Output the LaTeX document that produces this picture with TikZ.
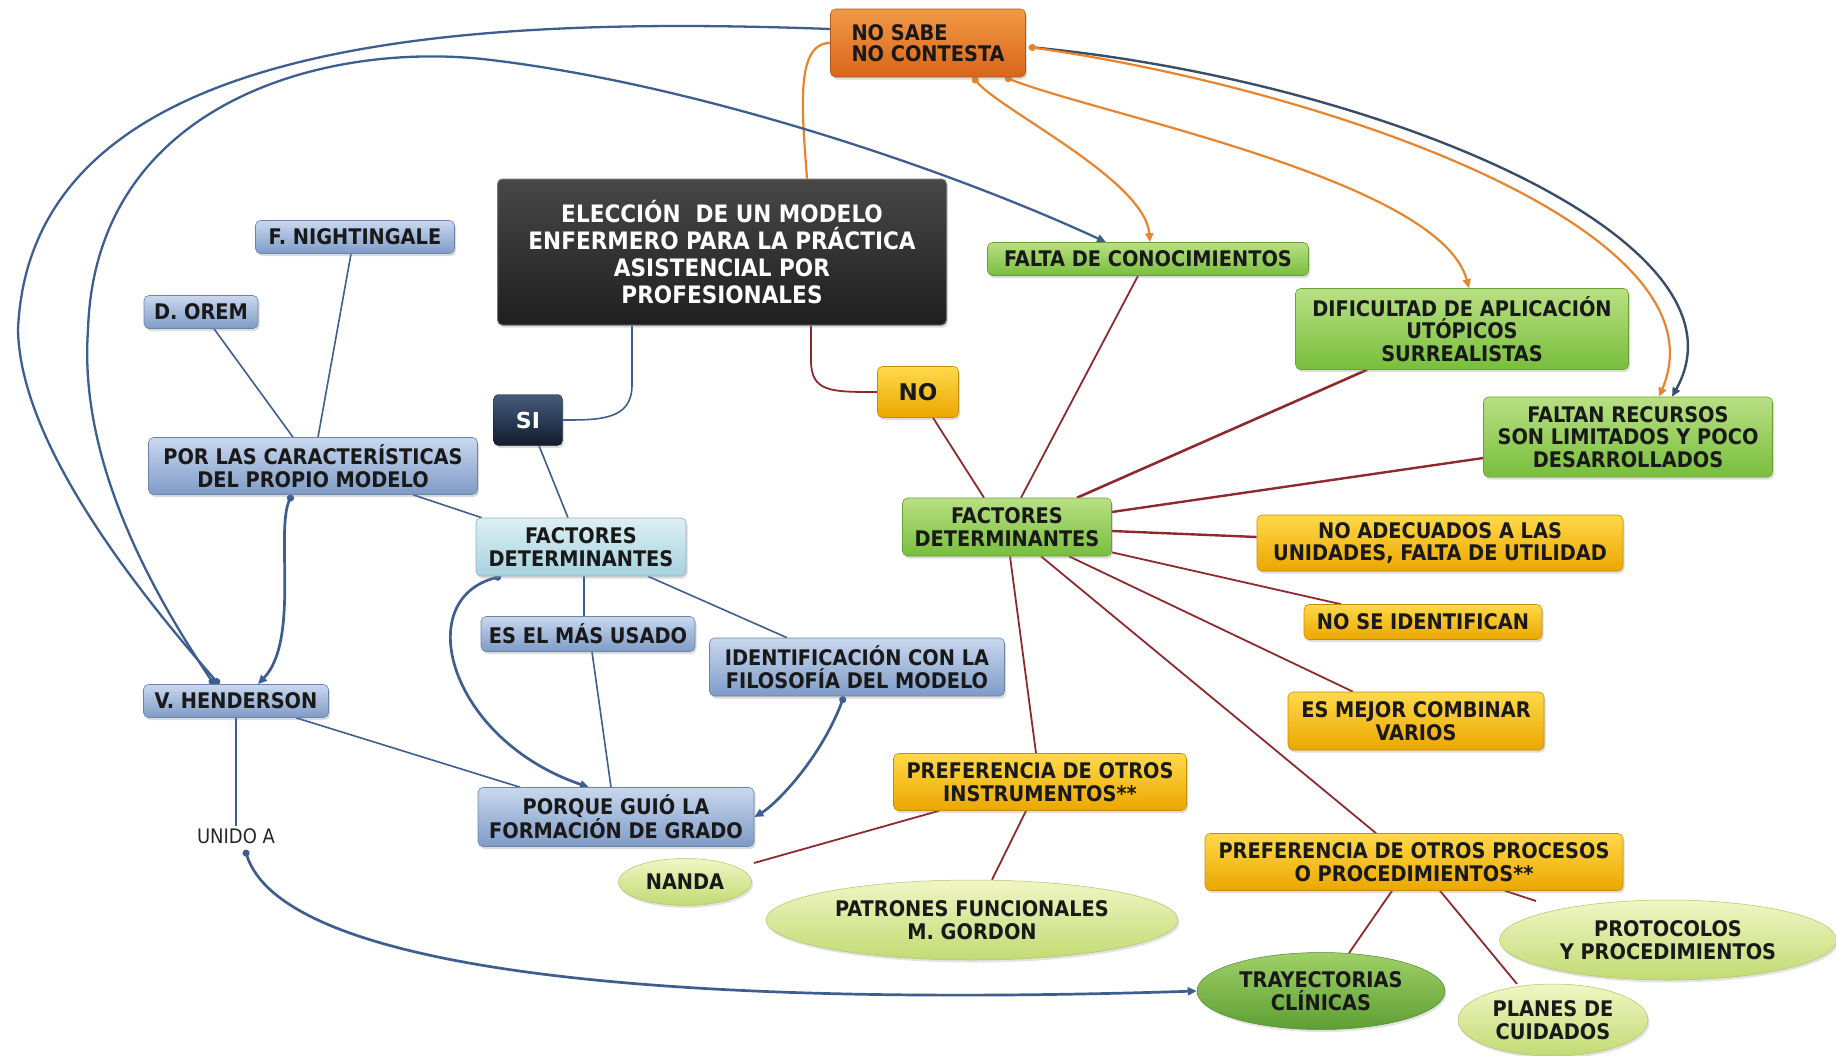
\documentclass[tikz,border=0pt]{standalone}
\usepackage{fontspec}
\newfontfamily\condb{DejaVu Sans Condensed Bold}
\newfontfamily\condr{DejaVu Sans Condensed}
\newfontfamily\dvsb{DejaVu Sans Bold}
\usetikzlibrary{arrows.meta,shapes.geometric,shadows,calc}
\pgfdeclarelayer{links}
\pgfsetlayers{links,main}

\definecolor{lnblue}{HTML}{3D5E8F}
\definecolor{lndark}{HTML}{3A4D66}
\definecolor{lnorange}{HTML}{E8842C}
\definecolor{lnred}{HTML}{8E2A2E}
\definecolor{cBlueT}{HTML}{C9D8EE}
\definecolor{cBlueB}{HTML}{7E9BC7}
\definecolor{cLbT}{HTML}{DDF0F4}
\definecolor{cLbB}{HTML}{A6D2DE}
\definecolor{cGrT}{HTML}{B9E084}
\definecolor{cGrB}{HTML}{78BE3C}
\definecolor{cYeT}{HTML}{FFD94A}
\definecolor{cYeB}{HTML}{EBA700}
\definecolor{cOrT}{HTML}{F29A45}
\definecolor{cOrB}{HTML}{D8651A}
\definecolor{cOvT}{HTML}{F0F6C4}
\definecolor{cOvB}{HTML}{C3DA74}
\definecolor{cTrT}{HTML}{9FD068}
\definecolor{cTrB}{HTML}{5E9F33}
\definecolor{cSiT}{HTML}{465B7C}
\definecolor{cSiB}{HTML}{111C2E}

\tikzset{
  card/.style={rounded corners=5pt, align=center, inner sep=1pt, text=black!90,
    font=\condb\fontsize{21.5}{22.5}\selectfont,
    drop shadow={shadow xshift=1.5pt, shadow yshift=-2.5pt, opacity=0.28}},
  dims/.style 2 args={minimum width=#1pt, minimum height=#2pt},
  bluecard/.style={card, top color=cBlueT, bottom color=cBlueB, draw=cBlueB!85!black, line width=0.6pt},
  lbluecard/.style={card, top color=cLbT, bottom color=cLbB, draw=cLbB!85!black, line width=0.6pt},
  greencard/.style={card, top color=cGrT, bottom color=cGrB, draw=cGrB!85!black, line width=0.6pt},
  yellowcard/.style={card, top color=cYeT, bottom color=cYeB, draw=cYeB!85!black, line width=0.6pt},
  orangecard/.style={card, top color=cOrT, bottom color=cOrB, draw=cOrB!85!black, line width=0.6pt},
  titlecard/.style={card, top color=black!72, middle color=black, bottom color=black!88,
    draw=black!55, line width=1pt, text=white, font=\condb\fontsize{24}{26.7}\selectfont},
  sicard/.style={card, top color=cSiT, bottom color=cSiB, draw=cSiB, text=white,
    font=\dvsb\fontsize{22}{24}\selectfont},
  oval/.style={ellipse, inner sep=0pt, align=center, text=black!90,
    font=\condb\fontsize{21.5}{22.5}\selectfont, top color=cOvT, bottom color=cOvB,
    draw=cOvB!90!black, line width=0.5pt,
    drop shadow={shadow xshift=1.5pt, shadow yshift=-2.5pt, opacity=0.22}},
  bthin/.style={draw=lnblue, line width=1.6pt},
  bmid/.style={draw=lnblue, line width=2.3pt},
  bthick/.style={draw=lnblue, line width=2.7pt},
  dotarrow/.style={{Circle[length=7pt]}-{Triangle[length=9pt,width=8pt]}},
  oline/.style={draw=lnorange, line width=2.2pt, {Circle[length=7pt]}-{Triangle[length=9pt,width=8pt]}},
  rline/.style={draw=lnred, line width=1.8pt},
}

\begin{document}
\begin{tikzpicture}[x=1pt,y=-1pt]
\useasboundingbox (0,0) rectangle (1836,1055);

% ---------- central question and answers ----------
\node[titlecard, dims={449}{146}] (title) at (722,252)
  {ELECCIÓN \ DE UN MODELO\\ENFERMERO PARA LA PRÁCTICA\\ASISTENCIAL POR\\PROFESIONALES};
\node[orangecard, dims={195}{68}, align=left, font=\condb\fontsize{21.5}{21.5}\selectfont] (nosabe) at (928,43)
  {NO SABE\\NO CONTESTA};
\node[sicard, dims={69}{51}] (si) at (528,420) {SI};
\node[yellowcard, dims={81}{51}, font=\dvsb\fontsize{23}{25}\selectfont] (no) at (918,392) {NO};

% ---------- "SI" branch ----------
\node[bluecard, dims={199}{33}] (night) at (355,237) {F. NIGHTINGALE};
\node[bluecard, dims={114}{33}] (orem) at (201,312) {D. OREM};
\node[bluecard, dims={329}{57}] (porlas) at (313,466) {POR LAS CARACTERÍSTICAS\\DEL PROPIO MODELO};
\node[lbluecard, dims={210}{58}] (factsi) at (581,547) {FACTORES\\DETERMINANTES};
\node[bluecard, dims={214}{35}] (masusado) at (588,634) {ES EL MÁS USADO};
\node[bluecard, dims={295}{58}] (ident) at (857,667) {IDENTIFICACIÓN CON LA\\FILOSOFÍA DEL MODELO};
\node[bluecard, dims={185}{33}] (hend) at (236,701) {V. HENDERSON};
\node[bluecard, dims={276}{59}] (porque) at (616,817) {PORQUE GUIÓ LA\\FORMACIÓN DE GRADO};
\node[inner sep=2pt, font=\condr\fontsize{20}{22}\selectfont, text=black!85] (unido) at (236,836) {UNIDO A};

% ---------- "NO" branch ----------
\node[greencard, dims={321}{33}] (falta) at (1148,259) {FALTA DE CONOCIMIENTOS};
\node[greencard, dims={333}{81}] (dific) at (1462,329) {DIFICULTAD DE APLICACIÓN\\UTÓPICOS\\SURREALISTAS};
\node[greencard, dims={289}{80}] (recur) at (1628,437) {FALTAN RECURSOS\\SON LIMITADOS Y POCO\\DESARROLLADOS};
\node[greencard, dims={209}{58}] (factno) at (1007,527) {FACTORES\\DETERMINANTES};
\node[yellowcard, dims={366}{56}] (noadec) at (1440,543) {NO ADECUADOS A LAS\\UNIDADES, FALTA DE UTILIDAD};
\node[yellowcard, dims={238}{35}] (noiden) at (1423,622) {NO SE IDENTIFICAN};
\node[yellowcard, dims={256}{58}] (mejor) at (1416,721) {ES MEJOR COMBINAR\\VARIOS};
\node[yellowcard, dims={293}{57}] (instr) at (1040,782) {PREFERENCIA DE OTROS\\INSTRUMENTOS**};
\node[yellowcard, dims={418}{57}] (proc) at (1414,862) {PREFERENCIA DE OTROS PROCESOS\\O PROCEDIMIENTOS**};
\node[oval, dims={133}{47}] (nanda) at (685,882) {NANDA};
\node[oval, dims={412}{80}] (patr) at (972,920) {PATRONES FUNCIONALES\\M. GORDON};
\node[oval, dims={337}{80}] (prot) at (1668,940) {PROTOCOLOS\\Y PROCEDIMIENTOS};
\node[oval, dims={248}{77}, top color=cTrT, bottom color=cTrB, draw=cTrB!85!black] (tray) at (1321,991) {TRAYECTORIAS\\CLÍNICAS};
\node[oval, dims={190}{72}] (planes) at (1553,1020) {PLANES DE\\CUIDADOS};

% ---------- connectors ----------
\begin{pgfonlayer}{links}
  % question to answers
  \draw[bthin] ($(title.south)+(-90,0)$) -- (632,385) .. controls (632,420) and (600,420) .. (si.east);
  \draw[rline] ($(title.south)+(89,0)$) -- (811,360) .. controls (811,392) and (830,392) .. (no.west);
  \draw[draw=lnorange, line width=2.2pt] (nosabe.west) .. controls (795,43) and (802,110) .. ($(title.north)+(85,0)$);

  % SI branch
  \draw[bthin] ($(si.south)+(11,0)$) -- ($(factsi.north)+(-13,0)$);
  \draw[bthin] ($(factsi.north west)+(6,0)$) -- ($(porlas.south)+(100,0)$);
  \draw[bthin] ($(porlas.north)+(-20,0)$) -- ($(orem.south)+(13,0)$);
  \draw[bthin] ($(porlas.north)+(5,0)$) -- ($(night.south)+(-4,0)$);
  \draw[bthin] ($(factsi.south)+(3,0)$) -- ($(masusado.north)+(-4,0)$);
  \draw[bthin] ($(masusado.south)+(4,0)$) -- ($(porque.north)+(-5,0)$);
  \draw[bthin] ($(factsi.south)+(67,0)$) -- ($(ident.north)+(-70,0)$);
  \draw[bthin] ($(hend.south)+(60,0)$) -- ($(porque.north)+(-96,0)$);
  \draw[bthin] (hend.south) -- (unido.north);

  \draw[bthick, dotarrow] ($(porlas.south)+(-21,0)$) .. controls (275,530) and (300,640) .. ($(hend.north)+(22,0)$);
  \draw[bthick, dotarrow] ($(factsi.south)+(-80,0)$) .. controls (410,600) and (450,740) .. ($(porque.north)+(-27,0)$);
  \draw[bthick, dotarrow] ($(ident.south)+(-13,0)$) .. controls (820,760) and (775,805) .. (porque.east);
  \draw[bthick, dotarrow] ($(unido.south)+(9,4)$) .. controls (280,960) and (600,1010) .. (tray.west);

  % long loops from V. HENDERSON
  \draw[bmid, {Circle[length=7pt]}-] ($(hend.north)+(-17,0)$) .. controls (110,560) and (20,430) .. (18,330)
    .. controls (30,40) and (450,15) .. ($(nosabe.west)+(0,-14)$);
  \draw[bmid, dotarrow] ($(hend.north)+(-22,0)$) .. controls (130,560) and (80,440) .. (88,330)
    .. controls (95,100) and (330,40) .. (491,60) .. controls (700,85) and (950,170) .. ($(falta.north)+(-42,0)$);

  % NO SABE / NO CONTESTA links
  \draw[line width=2.4pt, draw=lndark, -{Triangle[length=9pt,width=8pt]}] ($(nosabe.east)+(3,4)$)
    .. controls (1380,80) and (1760,240) .. ($(recur.north)+(44,0)$);
  \draw[oline] ($(nosabe.east)+(3,4)$) .. controls (1330,90) and (1730,230) .. ($(recur.north)+(31,0)$);
  \draw[oline] ($(nosabe.south)+(45,0)$) .. controls (1000,110) and (1145,180) .. ($(falta.north)+(2,0)$);
  \draw[oline] ($(nosabe.south)+(77,0)$) .. controls (1100,115) and (1440,180) .. ($(dific.north)+(7,0)$);

  % NO branch
  \draw[rline] ($(no.south)+(15,0)$) -- ($(factno.north)+(-23,0)$);
  \draw[rline] ($(falta.south)+(-10,0)$) -- ($(factno.north)+(14,0)$);
  \draw[rline, line width=2.6pt] ($(dific.south)+(-95,0)$) -- ($(factno.north)+(70,0)$);
  \draw[rline, line width=2.4pt] ($(recur.west)+(0,21)$) -- ($(factno.east)+(0,-15)$);
  \draw[rline, line width=2.4pt] ($(factno.east)+(0,4)$) -- ($(noadec.west)+(0,-6)$);
  \draw[rline] ($(factno.south east)+(0,-4)$) -- ($(noiden.north)+(-82,0)$);
  \draw[rline] ($(factno.south)+(62,0)$) -- ($(mejor.north)+(-63,0)$);
  \draw[rline] ($(factno.south)+(34,0)$) -- ($(proc.north)+(-38,0)$);
  \draw[rline] ($(factno.south)+(3,0)$) -- ($(instr.north)+(-4,0)$);
  \draw[rline] ($(instr.south)+(-101,0)$) -- ($(nanda.center)+(69,-19)$);
  \draw[rline] ($(instr.south)+(-14,0)$) -- ($(patr.north)+(20,0)$);
  \draw[rline] ($(proc.south)+(-22,0)$) -- ($(tray.center)+(28,-38)$);
  \draw[rline] ($(proc.south)+(26,0)$) -- ($(planes.center)+(-36,-36)$);
  \draw[rline] ($(proc.south)+(91,0)$) -- ($(prot.center)+(-132,-39)$);
\end{pgfonlayer}
\end{tikzpicture}
\end{document}
